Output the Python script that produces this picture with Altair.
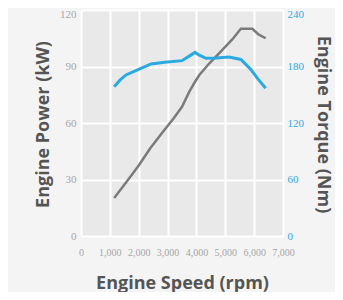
import altair as alt
import pandas as pd

power_rpm = [1150, 1600, 2000, 2400, 2800, 3200, 3500, 3750, 3920, 4100, 4450, 4900, 5250, 5540, 5940, 6150, 6400]
power_kw = [20.2, 29.2, 37.4, 46.6, 54.6, 62.3, 68.6, 76.5, 81.1, 85.5, 91.7, 98.8, 104.5, 110, 110, 107, 105]

torque_rpm = [1150, 1350, 1560, 1960, 2430, 2900, 3500, 3750, 3950, 4100, 4330, 4700, 5130, 5540, 5880, 6150, 6400]
torque_nm = [158.6, 165.5, 171, 176.3, 182.7, 184.5, 186.2, 191, 195, 192, 188.7, 189, 190, 187.5, 177, 166, 157]

x_ticks = [0, 1000, 2000, 3000, 4000, 5000, 6000, 7000]

power_df = pd.DataFrame({"rpm": power_rpm, "kw": power_kw})
torque_df = pd.DataFrame({"rpm": torque_rpm, "nm": torque_nm})

GRAY_TXT = "#a6a6a6"
BLUE = "#2aaae1"
TITLE = "#555555"
TFONT = "Open Sans"
TWEIGHT = "bold"
LFONT = "Liberation Sans Narrow"
TSIZE = 18

x_enc = alt.X(
    "rpm:Q",
    scale=alt.Scale(domain=[0, 7000], nice=False),
    axis=alt.Axis(
        values=x_ticks, format=",d", title="Engine Speed (rpm)",
        labelColor=GRAY_TXT, labelFont=LFONT, labelFontSize=10, labelPadding=11,
        ticks=False, domain=False, grid=True, gridColor="white", gridWidth=2,
        titleFont=TFONT, titleFontSize=TSIZE, titleFontWeight=TWEIGHT, titleColor=TITLE,
        titleBaseline="alphabetic", titleY=52, labelFlush=False,
    ),
)

power = alt.Chart(power_df).mark_line(color="#7b7b7b", strokeWidth=2.5).encode(
    x=x_enc,
    y=alt.Y(
        "kw:Q",
        scale=alt.Scale(domain=[0, 120], nice=False),
        axis=alt.Axis(
            values=[0, 30, 60, 90, 120], title="Engine Power (kW)", orient="left",
            labelColor=GRAY_TXT, labelFont=LFONT, labelFontSize=11, labelPadding=5,
            labelOffset={"condition": {"test": "datum.value == 120", "value": 4}, "value": 0},
            ticks=False, domain=False, grid=True, gridColor="white", gridWidth=2,
            titleFont=TFONT, titleFontSize=TSIZE, titleFontWeight=TWEIGHT, titleColor=TITLE,
            titleBaseline="middle", titleX=-38, titleY=114, titleAngle=270, labelFlush=False,
        ),
    ),
)

torque = alt.Chart(torque_df).mark_line(color=BLUE, strokeWidth=3).encode(
    x=x_enc,
    y=alt.Y(
        "nm:Q",
        scale=alt.Scale(domain=[0, 240], nice=False),
        axis=alt.Axis(
            values=[0, 60, 120, 180, 240], title="Engine Torque (Nm)", orient="right",
            labelColor=BLUE, labelFont=LFONT, labelFontSize=11, labelPadding=4,
            labelOffset={"condition": {"test": "datum.value == 240", "value": 4}, "value": 0},
            ticks=False, domain=False, grid=False,
            titleFont=TFONT, titleFontSize=TSIZE, titleFontWeight=TWEIGHT, titleColor=TITLE,
            titleBaseline="middle", titleX=39, titleY=114, titleAngle=90, labelFlush=False,
        ),
    ),
)

chart = (
    alt.layer(power, torque)
    .resolve_scale(y="independent")
    .properties(
        width=202, height=226,
        autosize=alt.AutoSizeParams(type="none"),
        padding={"left": 73, "top": 2, "right": 52, "bottom": 56},
        background="#f4f4f4",
    )
    .configure_view(fill="#e9e9e9", stroke=None)
)

chart.save("out.html", embed_options={"renderer": "svg", "actions": False})
